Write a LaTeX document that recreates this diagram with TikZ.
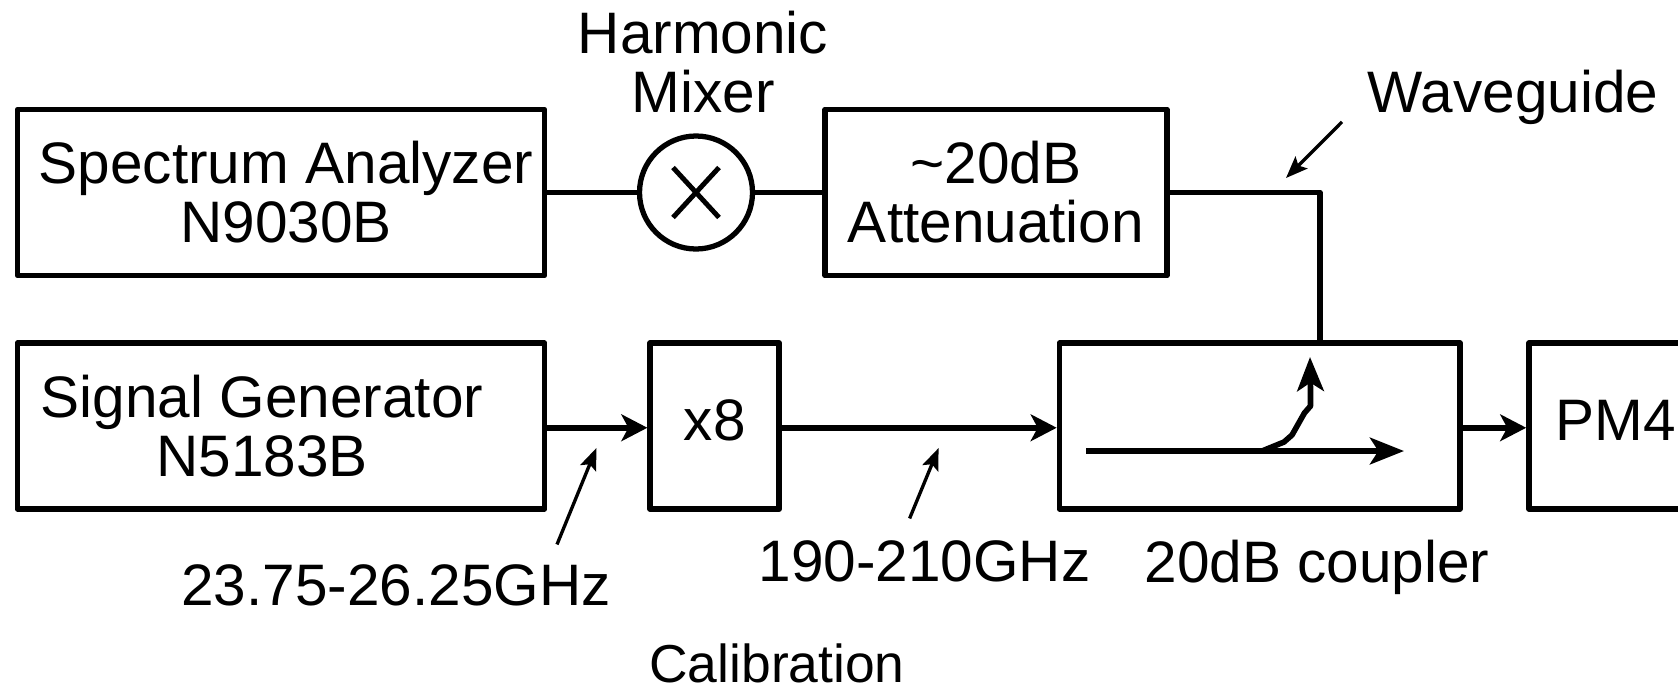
\documentclass[tikz,border=0pt]{standalone}
\usepackage{fontspec}
\setmainfont{Liberation Sans}
\usepackage{tikz}
\usetikzlibrary{arrows.meta}
\tikzstyle{block} = [rectangle, line width=1.6pt, line join=round, draw=black, inner sep=0pt, align=center, minimum height=1.66cm, font=\fontsize{16.65}{16.8}\selectfont]
\tikzstyle{caption} = [inner sep=0pt, align=center, font=\fontsize{16.65}{16.8}\selectfont]
\tikzstyle{arrow} = [line width=1.6pt,->,>={Stealth[length=7.4pt,width=7.6pt,inset=2pt]}]
\tikzstyle{wave} = [line width=1.6pt,line join=round]
\tikzstyle{inner} = [line width=1.6pt,line join=round,->,>={Stealth[length=9.7pt,width=7.6pt,inset=2.4pt]}]
\tikzstyle{pointer} = [line width=0.95pt,->,>={Stealth[length=6.2pt,width=4.8pt,inset=1.2pt]}]

\begin{document}
\begin{tikzpicture}
\useasboundingbox (0,0) rectangle (16.78,6.86);
\clip (0,0) rectangle (16.78,6.86);

% Top row
\node[block, minimum width=5.27cm] (analyzer) at (2.81,4.935) {\hspace*{0.1cm}Spectrum Analyzer\\\hspace*{0.1cm}N9030B};
\node[circle, line width=1.5pt, draw=black, minimum size=1.13cm, inner sep=0pt] (mixer) at (6.96,4.935) {};
\node[block, minimum width=3.42cm] (atten) at (9.96,4.935) {\textasciitilde20dB\\Attenuation};

% Bottom row
\node[block, minimum width=5.27cm] (generator) at (2.81,2.60) {Signal Generator\hspace*{0.38cm}\\N5183B\hspace*{0.38cm}};
\node[block, minimum width=1.29cm, text depth=0.12cm] (mult) at (7.147,2.60) {x8};
\node[block, minimum width=4.005cm] (coupler) at (12.5975,2.60) {};
\node[block, minimum width=1.73cm, text depth=0.12cm] (pm) at (16.155,2.60) {PM4};

% Labels
\node[caption] (mixerlabel) at (7.03,6.24) {Harmonic\\Mixer};
\node[caption, anchor=base] (waveguide) at (15.13,5.74) {Waveguide};
\node[caption, anchor=base] (lowfreq) at (3.96,0.81) {23.75-26.25GHz};
\node[caption, anchor=base] (highfreq) at (9.246,1.05) {190-210GHz};
\node[caption, anchor=base] (couplerlabel) at (13.17,1.04) {20dB coupler};
\node[caption, anchor=base, font=\fontsize{15.2}{16}\selectfont] (calibration) at (7.77,0.04) {Calibration};

% Mixer cross
\draw[line width=1.4pt] ([shift={(-0.23,0.25)}]mixer.center) -- ([shift={(0.23,-0.25)}]mixer.center);
\draw[line width=1.4pt] ([shift={(-0.23,-0.25)}]mixer.center) -- ([shift={(0.23,0.25)}]mixer.center);

% Waveguide lines
\coordinate (drop) at (13.2,3.43);
\draw[wave] (analyzer) -- (mixer);
\draw[wave] (mixer) -- (atten);
\draw[wave] (atten.east) -| (drop);

% Signal path
\draw[arrow] ([yshift=-0.5pt]generator.east) -- ([yshift=-0.5pt]mult.west);
\draw[arrow] ([yshift=-0.5pt]mult.east) -- ([yshift=-0.5pt]coupler.west);
\draw[arrow] ([yshift=-0.5pt]coupler.east) -- ([yshift=-0.5pt]pm.west);

% Inside the coupler
\coordinate (thruin) at (10.86,2.35);
\coordinate (thruout) at (14.04,2.35);
\coordinate (split) at (12.62,2.35);
\draw[inner] (thruin) -- (thruout);
\draw[inner] (split) -- (12.84,2.44) -- (12.92,2.51) -- (13.044,2.73) -- (13.105,2.80) -- (13.105,2.94) -- (13.10,3.29);

% Pointers
\coordinate (wavetip) at (12.86,5.08);
\coordinate (lowtip) at (5.964,2.38);
\coordinate (hightip) at (9.386,2.38);
\draw[pointer] ([shift={(-0.25,0.03)}]waveguide.south west) -- (wavetip);
\draw[pointer] ([shift={(1.61,0.19)}]lowfreq.north) -- (lowtip);
\draw[pointer] ([shift={(-0.15,0.21)}]highfreq.north) -- (hightip);
\end{tikzpicture}
\end{document}
